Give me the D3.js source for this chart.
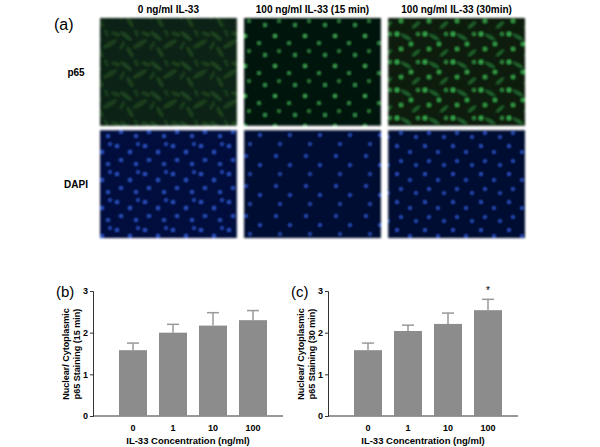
<!DOCTYPE html>
<html><head><meta charset="utf-8">
<script src="https://cdn.jsdelivr.net/npm/d3@7"></script>
<style>body{margin:0;background:#fff}text{font-family:Arial,"Liberation Sans",sans-serif}</style>
</head><body><svg id="c" width="600" height="447"></svg>
<script>
const conditions = ["0 ng/ml IL-33", "100 ng/ml IL-33 (15 min)", "100 ng/ml IL-33 (30min)"];
const stains = ["p65", "DAPI"];
const categories = ["0", "1", "10", "100"];
const means15 = [1.58, 2.0, 2.17, 2.3];
const err15 = [0.17, 0.2, 0.31, 0.23];
const means30 = [1.58, 2.04, 2.21, 2.54];
const err30 = [0.17, 0.14, 0.26, 0.26];
const sig30 = ["", "", "", "*"];
const yTicks = [0, 1, 2, 3];

const svg = d3.select("#c");
const defs = svg.append("defs");
function pat(id, bg, color, shapes, size){
  const p = defs.append("pattern").attr("id", id).attr("patternUnits","userSpaceOnUse").attr("width", size).attr("height", size);
  p.append("rect").attr("width", size).attr("height", size).attr("fill", bg);
  shapes.forEach(s => p.append("ellipse").attr("cx", s[0]).attr("cy", s[1]).attr("rx", s[2]).attr("ry", s[3])
    .attr("transform", `rotate(${s[4]||0},${s[0]},${s[1]})`).attr("fill", color).attr("opacity", s[5]||0.8));
  const g = defs.append("filter").attr("id", id+"b"); g.append("feGaussianBlur").attr("stdDeviation", 0.9);
}
pat("g0", "#0f2413", "#2a6a33", [[6,6,7,2,40,.45],[20,14,8,2.2,-30,.4],[10,22,6,2,60,.4],[26,4,5,1.8,20,.4],[16,2,5,1.6,70,.35],[2,16,5,1.6,-60,.35]], 30);
pat("g1", "#061209", "#4fd36a", [[5,6,1.8,1.8,0,.9],[19,13,1.6,1.6,0,.8],[9,21,1.5,1.5,0,.7],[25,25,1.7,1.7,0,.8]], 30);
pat("g2", "#0a1a0d", "#3fbf55", [[5,6,2.2,2.2,0,.9],[14,9,6,1.6,30,.45],[19,16,2,2,0,.9],[9,21,2.1,2.1,0,.85],[24,25,5,1.5,-40,.45],[26,6,1.8,1.8,0,.8]], 28);
pat("b0", "#06103d", "#3a6cff", [[5,6,1.8,1.6,0,.9],[18,12,1.7,1.7,0,.9],[9,20,1.8,1.6,0,.85],[24,24,1.6,1.6,0,.9],[26,4,1.5,1.5,0,.8]], 28);
pat("b1", "#050a30", "#3a6cff", [[6,6,1.6,1.6,0,.85],[20,15,1.6,1.6,0,.85],[10,24,1.5,1.5,0,.8]], 30);
pat("b2", "#050a30", "#3a6cff", [[5,6,1.6,1.6,0,.9],[18,12,1.6,1.6,0,.85],[9,21,1.6,1.6,0,.85],[24,25,1.5,1.5,0,.85]], 28);

const colX = d3.scaleBand().domain(conditions).range([100, 525]).paddingInner(0.05);
const rowY = d3.scaleBand().domain(stains).range([18, 238]).paddingInner(0.04);
svg.append("text").attr("x", 54).attr("y", 30).attr("font-size", 16).text("(a)");
conditions.forEach((c, i) => {
  svg.append("text").attr("x", colX(c) + colX.bandwidth()/2).attr("y", 13).attr("text-anchor","middle")
    .attr("font-size", 10).attr("font-weight","bold").text(c);
  stains.forEach((s, j) => {
    svg.append("rect").attr("x", colX(c)).attr("y", rowY(s)).attr("width", colX.bandwidth()).attr("height", rowY.bandwidth())
      .attr("fill", `url(#${j===0?"g":"b"}${i})`).attr("filter", `url(#${j===0?"g":"b"}${i}b)`);
  });
});
stains.forEach(s => svg.append("text").attr("x", 76).attr("y", rowY(s)+rowY.bandwidth()/2+4).attr("text-anchor","middle")
  .attr("font-size", 10).attr("font-weight","bold").text(s));

function chart(x0, x1, label, means, errs, sig, ttl){
  const y = d3.scaleLinear().domain([0,3]).range([416, 291]);
  const x = d3.scaleBand().domain(categories).range([x0+10, x1]).paddingInner(0.3).paddingOuter(0.4);
  const g = svg.append("g");
  g.append("g").attr("transform", `translate(${x0},0)`).call(d3.axisLeft(y).tickValues(yTicks).tickFormat(d3.format("d")).tickSize(3).tickPadding(2))
    .call(a => a.selectAll("text").attr("font-size", 9).attr("font-weight","bold"));
  g.append("line").attr("x1", x0).attr("x2", x1).attr("y1", 416).attr("y2", 416).attr("stroke","#333");
  categories.forEach((c, i) => {
    const cx = x(c) + x.bandwidth()/2;
    g.append("line").attr("x1", cx).attr("x2", cx).attr("y1", y(means[i])).attr("y2", y(means[i]+errs[i])).attr("stroke","#999").attr("stroke-width",1.5);
    g.append("line").attr("x1", cx-6).attr("x2", cx+6).attr("y1", y(means[i]+errs[i])).attr("y2", y(means[i]+errs[i])).attr("stroke","#999").attr("stroke-width",1.5);
    g.append("rect").attr("x", x(c)).attr("y", y(means[i])).attr("width", x.bandwidth()).attr("height", y(0)-y(means[i])).attr("fill","#8c8c8c");
    g.append("text").attr("x", cx).attr("y", 431).attr("text-anchor","middle").attr("font-size", 9).attr("font-weight","bold").text(c);
    if (sig[i]) g.append("text").attr("x", cx).attr("y", y(means[i]+errs[i]) - 5).attr("text-anchor","middle").attr("font-size", 10).text(sig[i]);
  });
  g.append("text").attr("x", (x0+x1)/2).attr("y", 444).attr("text-anchor","middle").attr("font-size", 9.5).attr("font-weight","bold").text("IL-33 Concentration (ng/ml)");
  g.append("text").attr("x", x0-37).attr("y", 297).attr("font-size", 15).text(label);
  const cy = 354;
  g.append("text").attr("transform", `translate(${x0-24},${cy}) rotate(-90)`).attr("text-anchor","middle").attr("font-size", 9).attr("font-weight","bold").text("Nuclear/ Cytoplasmic");
  g.append("text").attr("transform", `translate(${x0-13},${cy}) rotate(-90)`).attr("text-anchor","middle").attr("font-size", 9).attr("font-weight","bold").text(`p65 Staining (${ttl})`);
}
chart(93, 283, "(b)", means15, err15, ["","","",""], "15 min");
chart(328, 518, "(c)", means30, err30, sig30, "30 min");
svg.selectAll(".domain").attr("stroke","#333");
svg.selectAll(".tick line").attr("stroke","#333");
</script></body></html>
